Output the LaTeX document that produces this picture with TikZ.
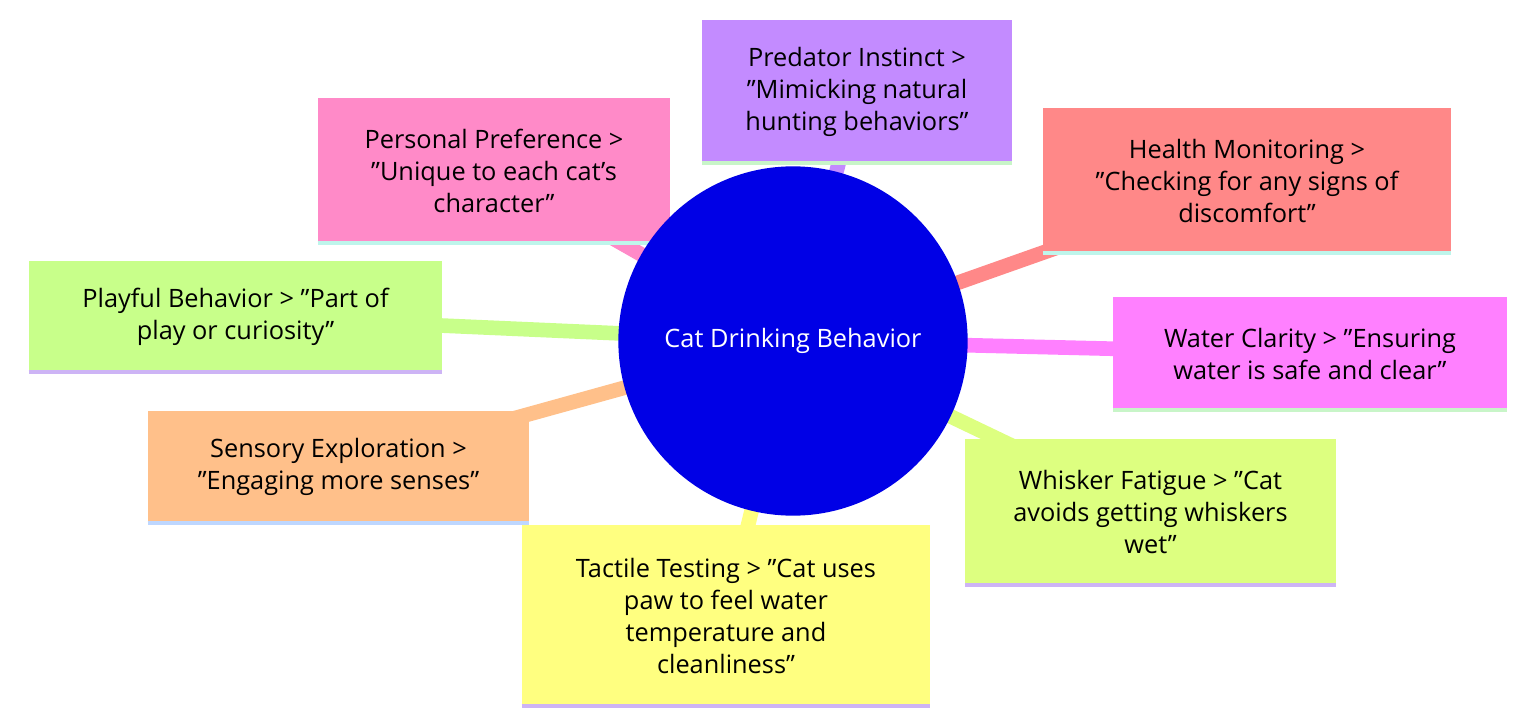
\documentclass[tikz,border=0pt]{standalone}
\usepackage{fontspec}
\setmainfont{Open Sans}
\usetikzlibrary{positioning,backgrounds}
\definecolor{cBlue}{RGB}{0,0,230}
\definecolor{cPurple}{RGB}{195,139,255}
\definecolor{cPink}{RGB}{255,138,200}
\definecolor{cSalmon}{RGB}{255,136,136}
\definecolor{cGreen}{RGB}{200,255,138}
\definecolor{cMagenta}{RGB}{255,128,255}
\definecolor{cOrange}{RGB}{255,192,138}
\definecolor{cLime}{RGB}{221,255,128}
\definecolor{cYellow}{RGB}{255,255,128}
\definecolor{sGreen}{RGB}{200,245,200}
\definecolor{sCyan}{RGB}{190,245,235}
\definecolor{sLav}{RGB}{205,180,245}
\definecolor{sBlue}{RGB}{190,215,255}
\tikzset{
  leaf/.style={rectangle, inner sep=0pt, align=center,
    font=\fontsize{19}{24}\selectfont},
  link/.style={line width=11pt},
  edge/.style={line width=3pt}
}
\begin{document}
\begin{tikzpicture}[x=0.75pt,y=-0.75pt]
\useasboundingbox (0,0) rectangle (1536,724);
% leaves
\node[leaf, fill=cPurple, minimum width=232.5pt, minimum height=107pt] (pred) at (857,91.5) {Predator Instinct >\\"Mimicking natural\\hunting behaviors"};
\node[leaf, fill=cPink, minimum width=264pt, minimum height=109pt] (pers) at (494,170.5) {Personal Preference >\\"Unique to each cat's\\character"};
\node[leaf, fill=cSalmon, minimum width=306pt, minimum height=109pt] (heal) at (1247,180.5) {Health Monitoring >\\"Checking for any signs of\\discomfort"};
\node[leaf, fill=cGreen, minimum width=310pt, minimum height=83pt] (play) at (235.5,316.5) {Playful Behavior > "Part of\\play or curiosity"};
\node[leaf, fill=cMagenta, minimum width=295pt, minimum height=85pt] (water) at (1310,353.5) {Water Clarity > "Ensuring\\water is safe and clear"};
\node[leaf, fill=cOrange, minimum width=286pt, minimum height=84pt] (sens) at (338.5,467) {Sensory Exploration >\\"Engaging more senses"};
\node[leaf, fill=cLime, minimum width=278pt, minimum height=109pt] (whis) at (1150.5,512) {Whisker Fatigue > "Cat\\avoids getting whiskers\\wet"};
\node[leaf, fill=cYellow, minimum width=306pt, minimum height=136pt] (tact) at (726,615.5) {Tactile Testing > "Cat uses\\paw to feel water\\temperature and\\cleanliness"};
% bottom edges
\draw[edge, sGreen] (pred.south west) -- (pred.south east);
\draw[edge, sCyan] (pers.south west) -- (pers.south east);
\draw[edge, sCyan] (heal.south west) -- (heal.south east);
\draw[edge, sLav] (play.south west) -- (play.south east);
\draw[edge, sGreen] (water.south west) -- (water.south east);
\draw[edge, sBlue] (sens.south west) -- (sens.south east);
\draw[edge, sLav] (whis.south west) -- (whis.south east);
\draw[edge, sLav] (tact.south west) -- (tact.south east);
% root
\node[circle, fill=cBlue, minimum size=262pt, text=white, font=\fontsize{19}{24}\selectfont] (root) at (793,341) {Cat Drinking Behavior};
% links
\begin{scope}[on background layer]
\draw[link, cPurple] (root.center) -- (pred.center);
\draw[link, cPink] (root.center) -- (pers.center);
\draw[link, cSalmon] (root.center) -- (heal.center);
\draw[link, cGreen] (root.center) -- (play.center);
\draw[link, cMagenta] (root.center) -- (water.center);
\draw[link, cOrange] (root.center) -- (sens.center);
\draw[link, cLime] (root.center) -- (whis.center);
\draw[link, cYellow] (root.center) -- (tact.center);
\end{scope}
\end{tikzpicture}
\end{document}
